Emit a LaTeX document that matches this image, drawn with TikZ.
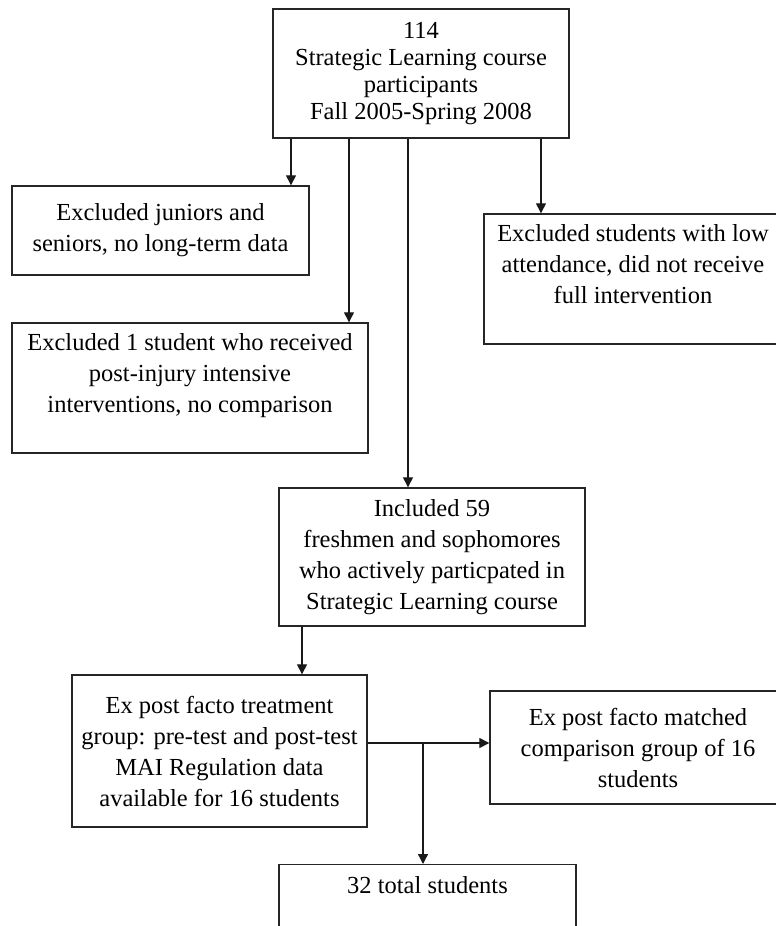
\documentclass[tikz,border=0pt]{standalone}
\usepackage{fontspec}
\setmainfont{Liberation Serif}
\usetikzlibrary{arrows.meta, positioning}

\begin{document}
\begin{tikzpicture}[
    x=1pt, y=-1pt,
    box/.style={rectangle, draw=black!85, line width=1.4pt, fill=white,
                align=center, inner sep=0pt,
                font=\fontsize{24.5}{31}\selectfont},
    arr/.style={-{Triangle[width=10pt, length=10pt]}, line width=1.3pt, black!90},
    link/.style={line width=1.3pt, black!90}
  ]
    \clip (0,0) rectangle (776,926);

    \node[box, minimum width=296pt, minimum height=129pt,
          font=\fontsize{24.5}{27}\selectfont] (start) at (421,73.5)
      {114\\Strategic Learning course\\participants\\Fall 2005-Spring 2008};
    \node[box, minimum width=297pt, minimum height=89pt] (juniors) at (160.5,230.5)
      {Excluded juniors and\\seniors, no long-term data};
    \node[box, minimum width=298pt, minimum height=130pt] (attend) at (633,279)
      {Excluded students with low\\attendance, did not receive\\full intervention\\\mbox{}};
    \node[box, minimum width=356pt, minimum height=130pt] (injury) at (190,388)
      {Excluded 1 student who received\\post-injury intensive\\interventions, no comparison\\\mbox{}};
    \node[box, minimum width=306pt, minimum height=138pt] (incl) at (432,557)
      {Included 59\\freshmen and sophomores\\who actively particpated in\\Strategic Learning course};
    \node[box, minimum width=295pt, minimum height=152pt] (treat) at (219.5,751)
      {Ex post facto treatment\\group: pre-test and post-test\\MAI Regulation data\\available for 16 students};
    \node[box, minimum width=296pt, minimum height=113pt] (match) at (638,747.5)
      {Ex post facto matched\\comparison group of 16\\students};
    \node[box, minimum width=297pt, minimum height=72pt, anchor=north] (total) at (427.5,864)
      {32 total students\\\mbox{}};

    % exclusions
    \draw[arr] ([xshift=-130pt]start.south) -- ([xshift=-130pt]start.south |- juniors.north);
    \draw[arr] ([xshift=-72pt]start.south) -- ([xshift=-72pt]start.south |- injury.north);
    \draw[arr] ([xshift=120pt]start.south) -- ([xshift=120pt]start.south |- attend.north);
    \draw[arr] ([xshift=-13pt]start.south) -- ([xshift=-13pt]start.south |- incl.north);

    % groups
    \draw[arr] ([xshift=-130pt]incl.south) -- ([xshift=-130pt]incl.south |- treat.north);
    \draw[arr] ([yshift=8pt]treat.east) -- ([yshift=8pt]treat.east -| match.west);
    \coordinate (split) at (423,743);
    \draw[arr] (split) -- (split |- total.north);
\end{tikzpicture}
\end{document}
